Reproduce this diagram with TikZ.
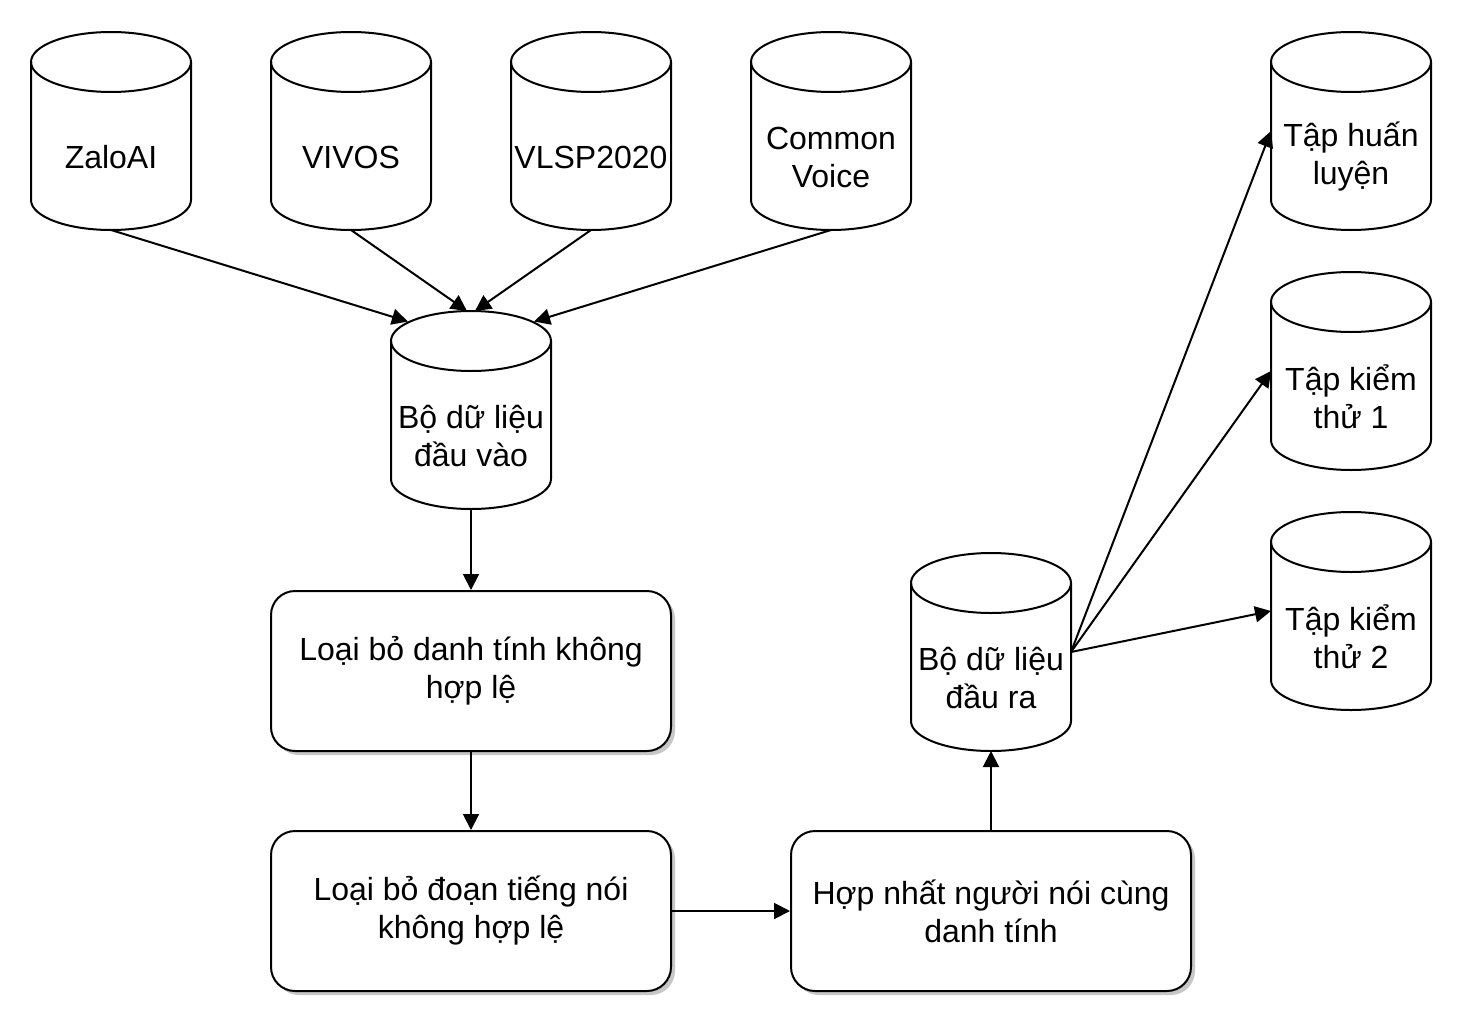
\documentclass[tikz,border=0pt]{standalone}
\usepackage{fontspec}
\setmainfont{Liberation Sans}
\usetikzlibrary{arrows.meta, shapes.geometric, shadows}

\begin{document}
\begin{tikzpicture}
            [x=0.5pt, y=-0.5pt, >={Triangle[length=8pt,width=8pt]}, line width=1pt,
             font=\fontsize{16pt}{19pt}\selectfont,
             cyl/.style={shape=rectangle, draw=none, minimum width=80pt, minimum height=99pt, inner sep=0pt, outer sep=0pt},
             lid/.style={shape=ellipse, draw=black, minimum width=80pt, minimum height=30pt, inner sep=0pt},
             txt/.style={align=center, inner sep=0pt},
             proc/.style={shape=rectangle, rounded corners=12pt, draw=black, fill=white, minimum width=200pt, minimum height=80pt, align=center,
                          drop shadow={shadow xshift=2pt, shadow yshift=-2pt, fill=black!22, opacity=1}}]
            \useasboundingbox (0, 0) rectangle (1462, 1028);

            % data sets drawn as cylinders
            \foreach \n/\x/\y/\t in {zalo/111/131/ZaloAI, vivos/351/131/VIVOS, vlsp/591/131/VLSP2020,
                                     cvoice/831/131/{Common\\Voice}, dsin/471/410/{Bộ dữ liệu\\đầu vào},
                                     dsout/991/652/{Bộ dữ liệu\\đầu ra}, train/1351/131/{Tập huấn\\luyện},
                                     test1/1351/371/{Tập kiểm\\thử 1}, test2/1351/611/{Tập kiểm\\thử 2}} {
                \node[cyl] (\n) at (\x, \y) {};
                \draw ([yshift=-15pt]\n.north west) -- ([yshift=15pt]\n.south west)
                      arc[start angle=180, end angle=360, x radius=40pt, y radius=15pt]
                      -- ([yshift=-15pt]\n.north east);
                \node[lid] (\n-lid) at ([yshift=-15pt]\n.north) {};
                \node[txt] (\n-txt) at ([yshift=-13pt]\n.center) {\t};
            }

            \node[proc] (dropid) at (471, 671) {Loại bỏ danh tính không\\hợp lệ};
            \node[proc] (droputt) at (471, 911) {Loại bỏ đoạn tiếng nói\\không hợp lệ};
            \node[proc] (merge) at (991, 911) {Hợp nhất người nói cùng\\danh tính};

            \path [->] (zalo.south) edge (dsin-lid);
            \path [->] (vivos.south) edge ([xshift=-2pt]dsin.north);
            \path [->] (vlsp.south) edge ([xshift=2pt]dsin.north);
            \path [->] (cvoice.south) edge (dsin-lid);
            \path [->] (dsin.south) edge (dropid);
            \path [->] (dropid) edge (droputt);
            \path [->] (droputt) edge (merge);
            \path [->] (merge) edge (dsout.south);
            \path [->] (dsout.east) edge (train.west);
            \path [->] (dsout.east) edge (test1.west);
            \path [->] (dsout.east) edge (test2.west);
        \end{tikzpicture}
\end{document}
